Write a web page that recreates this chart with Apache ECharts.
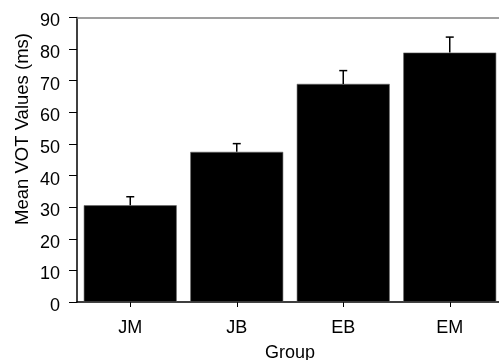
<!DOCTYPE html>
<html>
<head>
<meta charset="utf-8">
<script src="https://cdn.jsdelivr.net/npm/echarts@6/dist/echarts.min.js"></script>
<style>html,body{margin:0;padding:0;background:#fff}#c{width:499px;height:360px}</style>
</head>
<body>
<div id="c"></div>
<script>
var categories = ['JM', 'JB', 'EB', 'EM'];
var meanValues = [30.6, 47.5, 69.0, 78.9];
var errorValues = [2.7, 2.6, 4.2, 4.9];
var yTicks = [0, 10, 20, 30, 40, 50, 60, 70, 80, 90];

var font = 'Liberation Sans, Arial, Helvetica, sans-serif';
var chart = echarts.init(document.getElementById('c'), null, {renderer: 'canvas'});
var errData = meanValues.map(function (v, i) { return [i, v, v + errorValues[i]]; });

chart.setOption({
  animation: false,
  backgroundColor: '#fff',
  grid: {left: 77, top: 17.5, width: 426, height: 284.5, containLabel: false, outerBoundsMode: 'none'},
  xAxis: [{
    type: 'category',
    data: categories,
    position: 'bottom',
    axisLine: {show: true, lineStyle: {color: '#000', width: 1.5}},
    axisTick: {show: true, alignWithLabel: true, length: 5, lineStyle: {color: '#000', width: 1}},
    axisLabel: {color: '#000', fontFamily: font, fontSize: 18, margin: 17},
    name: 'Group',
    nameLocation: 'middle',
    nameGap: 42,
    nameTextStyle: {color: '#000', fontFamily: font, fontSize: 18}
  }, {
    type: 'category',
    data: categories,
    position: 'top',
    axisLine: {show: true, lineStyle: {color: '#808080', width: 1.5}},
    axisTick: {show: false},
    axisLabel: {show: false}
  }],
  yAxis: {
    type: 'value',
    min: yTicks[0],
    max: yTicks[yTicks.length - 1],
    interval: 10,
    axisLine: {show: true, lineStyle: {color: '#000', width: 1.5}},
    axisTick: {show: true, length: 8, lineStyle: {color: '#000', width: 1}},
    splitLine: {show: false},
    axisLabel: {color: '#000', fontFamily: font, fontSize: 18, margin: 17, verticalAlign: 'top', lineHeight: 8}
  },
  graphic: [{
    type: 'text',
    x: 23,
    y: 129,
    rotation: Math.PI / 2,
    style: {
      text: 'Mean VOT Values (ms)',
      fill: '#000',
      font: '18.5px ' + font,
      textAlign: 'center',
      textVerticalAlign: 'middle'
    }
  }],
  series: [{
    type: 'bar',
    data: meanValues,
    barCategoryGap: '12.7%',
    itemStyle: {color: '#000', borderColor: '#666', borderWidth: 0.6},
    z: 2
  }, {
    type: 'custom',
    data: errData,
    z: 3,
    renderItem: function (params, api) {
      var base = api.coord([api.value(0), api.value(1)]);
      var top = api.coord([api.value(0), api.value(2)]);
      var hw = 4;
      return {
        type: 'group',
        children: [{
          type: 'line',
          shape: {x1: base[0], y1: base[1], x2: top[0], y2: top[1]},
          style: {stroke: '#000', lineWidth: 1.5}
        }, {
          type: 'line',
          shape: {x1: top[0] - hw, y1: top[1], x2: top[0] + hw, y2: top[1]},
          style: {stroke: '#000', lineWidth: 1.5}
        }]
      };
    }
  }]
});
</script>
</body>
</html>
